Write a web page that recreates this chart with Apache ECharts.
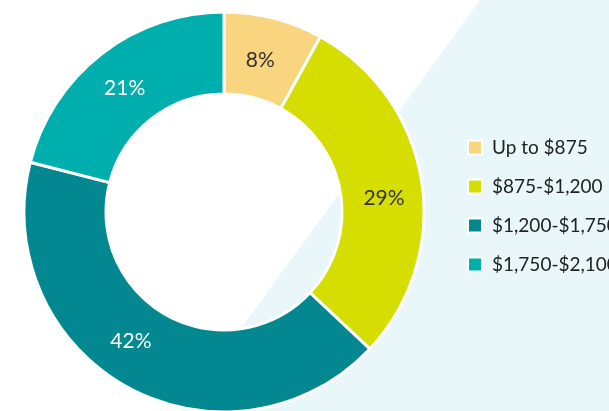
<!DOCTYPE html>
<html>
<head>
<meta charset="utf-8">
<script src="https://cdn.jsdelivr.net/npm/echarts@6/dist/echarts.min.js"></script>
<style>
html,body{margin:0;padding:0;background:#fff;}
#chart{width:609px;height:411px;}
</style>
</head>
<body>
<div id="chart"></div>
<script>
const categories = ["Up to $875", "$875-$1,200", "$1,200-$1,750", "$1,750-$2,100"];
const shares = [8, 29, 42, 21];
const colors = ["#FAD57F", "#D5DE00", "#038891", "#00AFAD"];
const labelColors = ["#333333", "#333333", "#ffffff", "#ffffff"];
const labelOffsets = [[-4, 5], [0, 12], [-15, -13], [0, 4]];

const chart = echarts.init(document.getElementById('chart'), null, {renderer: 'canvas'});
chart.setOption({
  animation: false,
  backgroundColor: '#ffffff',
  graphic: [{
    type: 'polygon',
    z: -10,
    silent: true,
    shape: { points: [[480, 0], [609, 0], [609, 411], [181, 411]] },
    style: { fill: '#E9F6FA' }
  }],
  legend: {
    orient: 'vertical',
    left: 467,
    top: 138,
    padding: 0,
    itemWidth: 14,
    itemHeight: 14,
    itemGap: 20,
    icon: 'rect',
    data: categories,
    textStyle: {
      fontFamily: 'Lato',
      fontSize: 19,
      color: '#222222',
      padding: [2, 0, 0, 5],
      lineHeight: 14
    },
    selectedMode: false
  },
  series: [{
    type: 'pie',
    center: [224, 212],
    radius: [118, 200],
    startAngle: 90,
    clockwise: true,
    avoidLabelOverlap: false,
    itemStyle: { borderColor: '#ffffff', borderWidth: 3 },
    label: {
      show: true,
      position: 'inside',
      formatter: '{c}%',
      fontFamily: 'Lato',
      fontSize: 21
    },
    labelLine: { show: false },
    emphasis: { disabled: true },
    data: categories.map((name, i) => ({
      name: name,
      value: shares[i],
      itemStyle: { color: colors[i] },
      label: { color: labelColors[i], offset: labelOffsets[i] }
    }))
  }]
});
</script>
</body>
</html>
